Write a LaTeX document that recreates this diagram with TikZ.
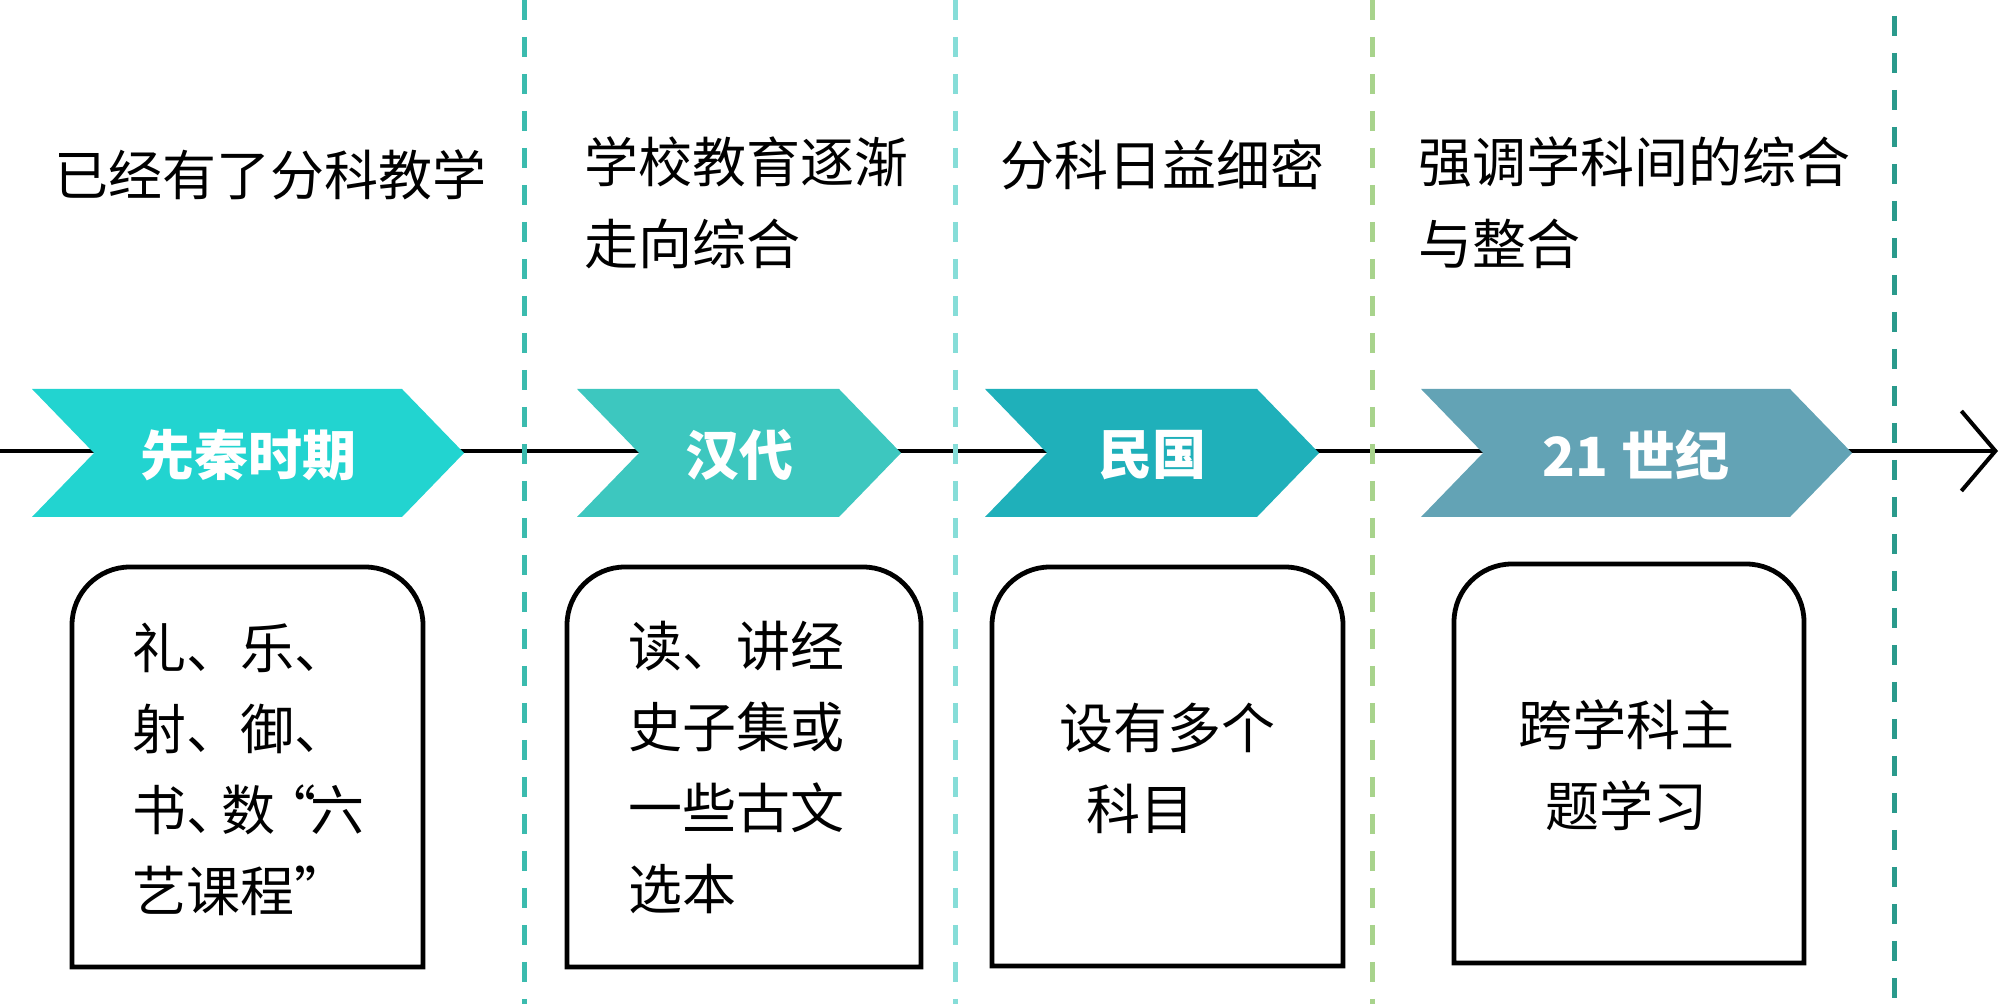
\documentclass[tikz,border=0pt]{standalone}
\usepackage{fontspec}
\setmainfont{Noto Sans CJK SC}
\usetikzlibrary{arrows.meta}

\definecolor{EraCyan}{HTML}{22D4D0}
\definecolor{EraTeal}{HTML}{3DC7BF}
\definecolor{EraBlue}{HTML}{1FB0BA}
\definecolor{EraSlate}{HTML}{63A3B5}
\definecolor{SplitTeal}{HTML}{3BBBAE}
\definecolor{SplitAqua}{HTML}{86DDD8}
\definecolor{SplitGreen}{HTML}{A8D38C}
\definecolor{SplitDark}{HTML}{2A9A8C}

\tikzstyle{split-line}=[line width=2.5pt, dash pattern=on 10pt off 8.5pt]
\tikzstyle{era-label}=[font=\fontsize{27}{32}\selectfont\bfseries, text=white, inner sep=0pt]
\tikzstyle{trend-text}=[font=\fontsize{27}{41}\selectfont, align=left, anchor=base west, inner sep=0pt]
\tikzstyle{note-box}=[line width=2.4pt, draw=black]
\tikzstyle{note-text}=[font=\fontsize{27}{40.5}\selectfont, align=left, anchor=base west, inner sep=0pt]

\begin{document}
\begin{tikzpicture}[x=0.5pt, y=0.5pt]
      \useasboundingbox (0,0) rectangle (2000,1004);

      % time axis
      \coordinate (axis-start) at (0,553);
      \coordinate (axis-end) at (1998,553);
      \draw[line width=2pt, -{Straight Barb[length=17pt, width=40pt, line width=2pt]}]
            (axis-start) -- (axis-end);

      % era chevrons
      \fill[EraCyan] (32,615) -- (402,615) -- (464,551) -- (402,487) -- (32,487) -- (94,551) -- cycle;
      \fill[EraTeal] (577,615) -- (839,615) -- (901,551) -- (839,487) -- (577,487) -- (639,551) -- cycle;
      \fill[EraBlue] (985,615) -- (1257,615) -- (1319,551) -- (1257,487) -- (985,487) -- (1047,551) -- cycle;
      \fill[EraSlate] (1421,615) -- (1790,615) -- (1852,551) -- (1790,487) -- (1421,487) -- (1483,551) -- cycle;

      \node (era-qin) at (248,549) [era-label] {先秦时期};
      \node (era-han) at (739,549) [era-label] {汉代};
      \node (era-minguo) at (1152,549) [era-label] {民国};
      \node (era-now) at (1636,549) [era-label] {21 世纪};

      % separators
      \draw[split-line, SplitTeal] (524,1004) -- (524,0);
      \draw[split-line, SplitAqua] (955,1004) -- (955,0);
      \draw[split-line, SplitGreen] (1372,1004) -- (1372,0);
      \draw[split-line, SplitDark] (1894,988) -- (1894,0);

      % trends (base = last line)
      \node (trend-qin) at (54,808) [trend-text] {已经有了分科教学};
      \node (trend-han) at (584,739) [trend-text] {学校教育逐渐\\走向综合};
      \node (trend-minguo) at (1000,818) [trend-text] {分科日益细密};
      \node (trend-now) at (1418,739) [trend-text] {强调学科间的综合\\与整合};

      % notes
      \draw[note-box] (72,37) -- (72,379) arc[start angle=180, end angle=90, radius=29pt]
            -- (365,437) arc[start angle=90, end angle=0, radius=29pt] -- (423,37) -- cycle;
      \draw[note-box] (567,37) -- (567,379) arc[start angle=180, end angle=90, radius=29pt]
            -- (863,437) arc[start angle=90, end angle=0, radius=29pt] -- (921,37) -- cycle;
      \draw[note-box] (992,38) -- (992,379) arc[start angle=180, end angle=90, radius=29pt]
            -- (1285,437) arc[start angle=90, end angle=0, radius=29pt] -- (1343,38) -- cycle;
      \draw[note-box] (1454,41) -- (1454,382) arc[start angle=180, end angle=90, radius=29pt]
            -- (1746,440) arc[start angle=90, end angle=0, radius=29pt] -- (1804,41) -- cycle;

      \node (note-qin) at (132,92) [note-text]
            {礼、乐、\\射、御、\\书、\hspace{-0.35em}数\hspace{-0.25em}“\hspace{-0.1em}六\\艺课程”};
      \node (note-han) at (628,94) [note-text] {读、讲经\\史子集或\\一些古文\\选本};
      \node (note-minguo) at (1059,174) [note-text] {设有多个\\\hspace{0.5em}科目};
      \node (note-now) at (1626,177) [note-text, align=center, anchor=base] {跨学科主\\题学习};
\end{tikzpicture}
\end{document}
